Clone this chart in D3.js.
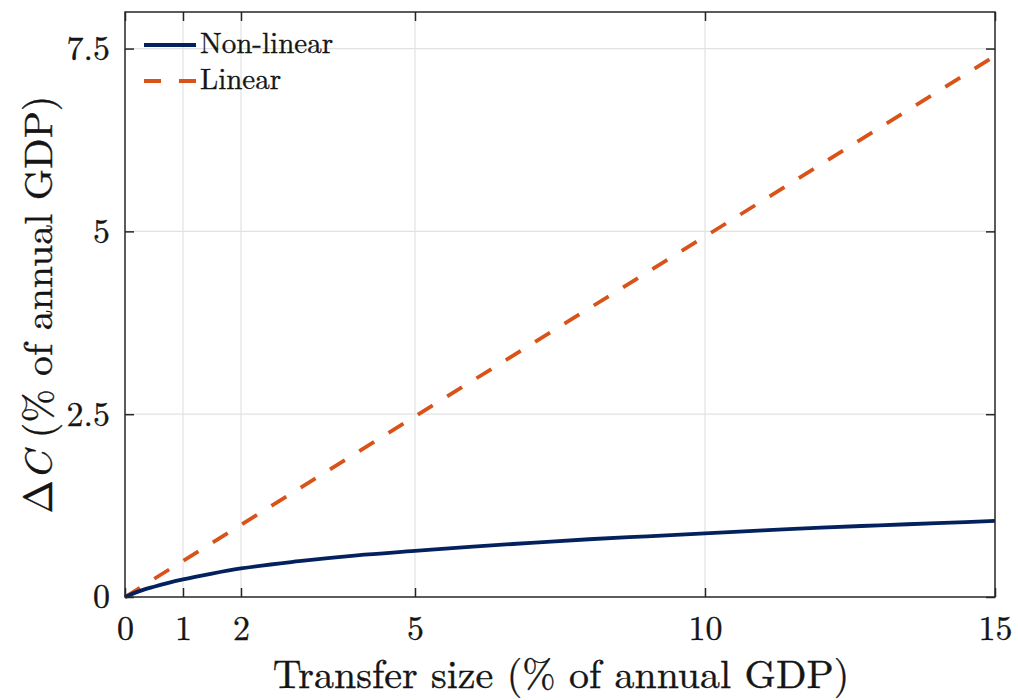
<!DOCTYPE html>
<html>
<head>
<meta charset="utf-8">
<script src="https://cdn.jsdelivr.net/npm/d3@7"></script>
<style>
  html, body { margin: 0; padding: 0; background: #fff; }
  svg { display: block; }
</style>
</head>
<body>
<svg id="chart" width="1018" height="700"></svg>
<script>
// Transfer size (% of annual GDP)
const transferSize = [0, 0.25, 0.5, 1, 1.5, 2, 3, 4, 5, 6, 7, 8, 9, 10, 11, 12, 13, 14, 15];
// Consumption response, non-linear model (% of annual GDP)
const nonLinear = [0, 0.08, 0.14, 0.24, 0.32, 0.39, 0.49, 0.57, 0.63, 0.69, 0.74, 0.79, 0.83, 0.87, 0.91, 0.95, 0.98, 1.01, 1.04];
// Consumption response, linear model
const linearX = [0, 5, 10, 15];
const linear = [0, 2.47, 4.93, 7.4];

const xTicks = [0, 1, 2, 5, 10, 15];
const yTicks = [0, 2.5, 5, 7.5];
const yTickLabels = ["0", "2.5", "5", "7.5"];

const seriesNames = ["Non-linear", "Linear"];
const seriesColors = ["#03215d", "#d95319"];

const FONT = '"Latin Modern Roman", "CMU Serif", "Liberation Serif", serif';

const svg = d3.select("#chart");
const plot = { left: 125, right: 995, top: 12, bottom: 597 };

const x = d3.scaleLinear().domain([0, 15]).range([plot.left, plot.right]);
const y = d3.scaleLinear().domain([0, 8]).range([plot.bottom, plot.top]);

const axisColor = "#262626";
const gridColor = "#e2e2e2";
const textColor = "#151515";
const tickLen = 9;

// slightly heavier glyphs for the serif labels
function textStyle(sel, size) {
  sel.attr("fill", textColor)
    .attr("stroke", textColor).attr("stroke-width", 0.35)
    .style("font-family", FONT).style("font-size", size + "px");
}

// grid
const grid = svg.append("g");
grid.selectAll("line.vx").data(xTicks.filter(d => d > 0 && d < 15)).join("line")
  .attr("x1", d => x(d)).attr("x2", d => x(d))
  .attr("y1", plot.top).attr("y2", plot.bottom)
  .attr("stroke", gridColor).attr("stroke-width", 1.2);
grid.selectAll("line.hy").data(yTicks.filter(d => d > 0)).join("line")
  .attr("x1", plot.left).attr("x2", plot.right)
  .attr("y1", d => y(d)).attr("y2", d => y(d))
  .attr("stroke", gridColor).attr("stroke-width", 1.2);

// axes with inward ticks on all four sides
const fmtY = d => yTickLabels[yTicks.indexOf(d)];
const axisBottom = d3.axisBottom(x).tickValues(xTicks).tickSizeInner(-tickLen).tickSizeOuter(0).tickPadding(19);
const axisTop = d3.axisTop(x).tickValues(xTicks).tickSizeInner(-tickLen).tickSizeOuter(0).tickFormat("");
const axisLeft = d3.axisLeft(y).tickValues(yTicks).tickFormat(fmtY).tickSizeInner(-tickLen).tickSizeOuter(0).tickPadding(15);
const axisRight = d3.axisRight(y).tickValues(yTicks).tickSizeInner(-tickLen).tickSizeOuter(0).tickFormat("");

function styleAxis(g) {
  g.attr("font-family", null).attr("font-size", null);
  g.select(".domain").remove();
  g.selectAll(".tick line").attr("stroke", axisColor).attr("stroke-width", 1.5);
  g.selectAll(".tick text").call(textStyle, 34);
}

svg.append("g").attr("transform", `translate(0,${plot.bottom})`).call(axisBottom).call(styleAxis);
svg.append("g").attr("transform", `translate(0,${plot.top})`).call(axisTop).call(styleAxis);
svg.append("g").attr("transform", `translate(${plot.left},0)`).call(axisLeft).call(styleAxis)
  .selectAll(".tick text").attr("dy", "0.32em");
svg.append("g").attr("transform", `translate(${plot.right},0)`).call(axisRight).call(styleAxis);

// series
const line = d3.line().x(d => x(d[0])).y(d => y(d[1]));
const nlData = transferSize.map((t, i) => [t, nonLinear[i]]);
const linData = linearX.map((t, i) => [t, linear[i]]);

svg.append("path").datum(linData)
  .attr("d", line)
  .attr("fill", "none").attr("stroke", seriesColors[1])
  .attr("stroke-width", 3.8).attr("stroke-dasharray", "17.5,17");

svg.append("path").datum(nlData)
  .attr("d", line.curve(d3.curveMonotoneX))
  .attr("fill", "none").attr("stroke", seriesColors[0])
  .attr("stroke-width", 3.8);

// box
svg.append("rect")
  .attr("x", plot.left).attr("y", plot.top)
  .attr("width", plot.right - plot.left).attr("height", plot.bottom - plot.top)
  .attr("fill", "none").attr("stroke", axisColor).attr("stroke-width", 1.5);

// legend
const legend = svg.append("g");
const legendRows = [45, 81];
seriesNames.forEach((name, i) => {
  legend.append("line")
    .attr("x1", 144).attr("x2", 196)
    .attr("y1", legendRows[i]).attr("y2", legendRows[i])
    .attr("stroke", seriesColors[i]).attr("stroke-width", 3.8)
    .attr("stroke-dasharray", i === 1 ? "17,18" : null);
  legend.append("text")
    .attr("x", 200).attr("y", legendRows[i] + 8)
    .call(textStyle, 29)
    .text(name);
});

// axis titles
svg.append("text")
  .attr("x", (plot.left + plot.right) / 2 + 1).attr("y", 688)
  .attr("text-anchor", "middle")
  .call(textStyle, 40)
  .text("Transfer size (% of annual GDP)");

const yTitle = svg.append("text")
  .attr("transform", `translate(52,${(plot.top + plot.bottom) / 2}) rotate(-90)`)
  .attr("text-anchor", "middle")
  .call(textStyle, 40);
yTitle.append("tspan").text("\u0394");
yTitle.append("tspan").style("font-style", "italic").text("C");
yTitle.append("tspan").text(" (% of annual GDP)");
</script>
</body>
</html>
